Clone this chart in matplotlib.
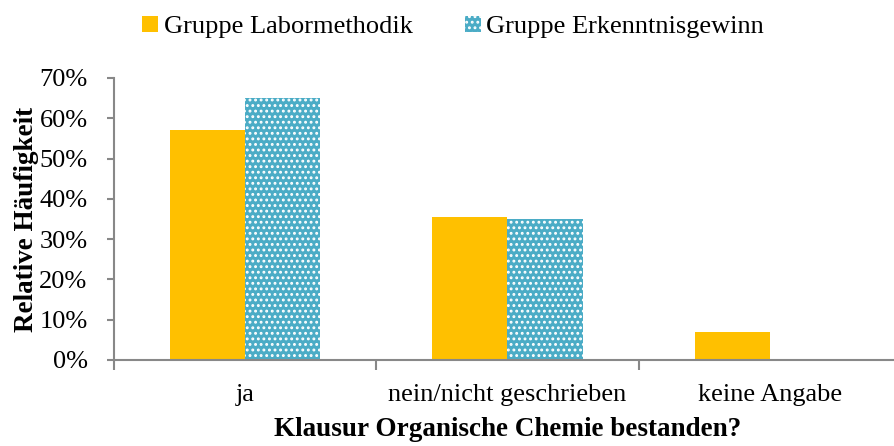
import numpy as np
import matplotlib
matplotlib.use('Agg')
from matplotlib.pylab import plt
from matplotlib.ticker import PercentFormatter, FixedLocator

categories = ['ja', 'nein/nicht geschrieben', 'keine Angabe']
labormethodik = [57, 35.5, 7]
erkenntnisgewinn = [65, 35, 0]
series_names = ['Gruppe Labormethodik', 'Gruppe Erkenntnisgewinn']

plt.rcParams['font.family'] = ['Liberation Serif', 'DejaVu Serif']
plt.rcParams['hatch.linewidth'] = 1.3

fig = plt.figure(figsize=(8.94, 4.46), dpi=100)
ax = fig.add_axes([114/894, 86/446, 787/894, 282/446])

x = np.arange(len(categories))
w = 0.286
ax.bar(x - w/2, labormethodik, w, color='#FFC000', label=series_names[0], lw=0)
ax.bar(x + w/2, erkenntnisgewinn, w, color='#4BACC6', edgecolor='white',
       hatch='...', lw=0, label=series_names[1])

ax.set_xlim(-0.5, 2.5)
ax.set_ylim(0, 70)
ax.yaxis.set_major_formatter(PercentFormatter(decimals=0))
ax.set_yticks(range(0, 71, 10))
ax.set_xticks(x)
ax.set_xticklabels(categories)
ax.xaxis.set_minor_locator(FixedLocator([-0.5, 0.5, 1.5, 2.5]))
ax.tick_params(axis='x', which='major', length=0, labelsize=19, pad=17)
ax.tick_params(axis='x', which='minor', length=7, width=1.5, color='#888888')
ax.tick_params(axis='y', length=5, width=1.5, color='#888888', labelsize=19, pad=14)

for s in ['top', 'right']:
    ax.spines[s].set_visible(False)
for s in ['left', 'bottom']:
    ax.spines[s].set_color('#888888')
    ax.spines[s].set_linewidth(1.5)

ax.set_ylabel('Relative Häufigkeit', fontsize=19.5, fontweight='bold', labelpad=0)
ax.set_xlabel('Klausur Organische Chemie bestanden?', fontsize=19.5, fontweight='bold', labelpad=8)

fig.legend(loc='upper center', bbox_to_anchor=(0.507, 1.018), ncol=2, frameon=False,
           fontsize=19, handlelength=0.6, handleheight=0.6, handletextpad=0.2,
           columnspacing=2.0)

fig.savefig('out.png', dpi=100)
